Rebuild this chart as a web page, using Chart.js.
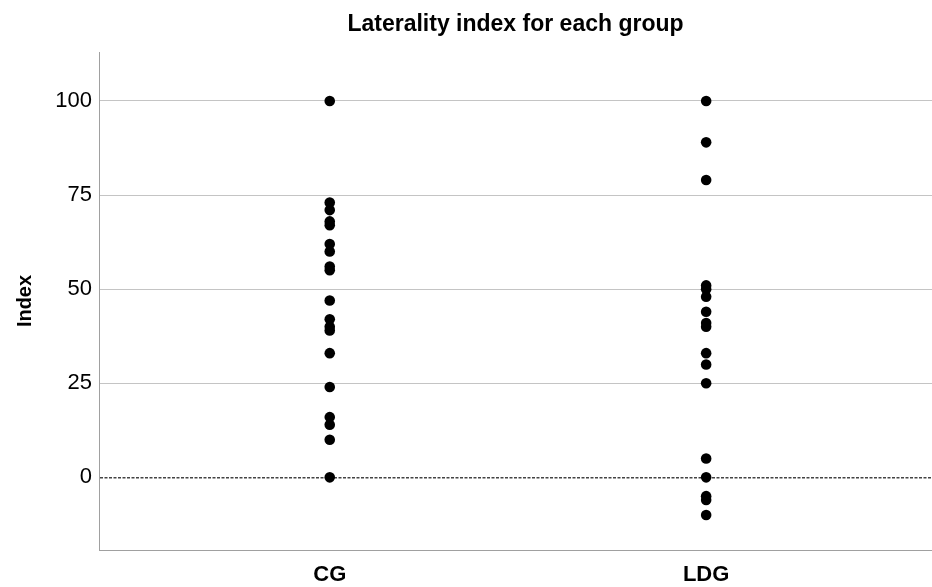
<!DOCTYPE html>
<html>
<head>
<meta charset="utf-8">
<script src="https://cdn.jsdelivr.net/npm/chart.js@4/dist/chart.umd.min.js"></script>
<style>
  html, body { margin: 0; padding: 0; background: #ffffff; }
  #wrap { width: 932px; height: 587px; }
</style>
</head>
<body>
<div id="wrap"><canvas id="c" width="932" height="587"></canvas></div>
<script>
const categories = ['CG', 'LDG'];
const cgValues = [100, 73, 71, 68, 67, 62, 60, 56, 55, 47, 42, 40, 39, 33, 24, 16, 14, 10, 0];
const ldgValues = [100, 89, 79, 51, 50, 48, 44, 41, 40, 33, 30, 25, 5, 0, -5, -6, -10];
const yTickValues = [0, 25, 50, 75, 100];
const chartTitle = 'Laterality index for each group';
const yAxisTitle = 'Index';

const seriesValues = [cgValues, ldgValues];
const FONT = '"Liberation Sans", Arial, sans-serif';

const datasets = seriesValues.map((vals, ci) => ({
  label: categories[ci],
  data: vals.map(v => ({ x: ci, y: v })),
  backgroundColor: '#000000',
  borderColor: '#000000',
  pointRadius: 5.3,
  pointHoverRadius: 5.3,
  pointBorderWidth: 0
}));

new Chart(document.getElementById('c'), {
  type: 'scatter',
  data: { datasets },
  options: {
    responsive: false,
    animation: false,
    events: [],
    layout: { autoPadding: false, padding: { left: 0, right: 0, top: 0, bottom: 0 } },
    plugins: {
      legend: { display: false },
      tooltip: { enabled: false },
      title: {
        display: true,
        text: chartTitle,
        fullSize: false,
        color: '#000000',
        font: { family: FONT, size: 23, weight: 'bold', lineHeight: 1.2 },
        padding: { top: 11, bottom: 13.4 }
      }
    },
    scales: {
      x: {
        type: 'linear',
        min: -0.613,
        max: 1.60,
        afterBuildTicks: (scale) => { scale.ticks = categories.map((c, i) => ({ value: i })); },
        afterFit: (scale) => { scale.height = 37; },
        grid: { display: false, drawTicks: false },
        border: { display: true, color: '#a0a0a0', width: 1 },
        ticks: {
          padding: 12,
          color: '#000000',
          font: { family: FONT, size: 22, weight: 'bold' },
          callback: (v) => categories[v] !== undefined ? categories[v] : ''
        }
      },
      y: {
        type: 'linear',
        min: -19.3,
        max: 113,
        afterBuildTicks: (scale) => { scale.ticks = yTickValues.map(v => ({ value: v })); },
        afterFit: (scale) => { scale.width = 99; },
        grid: {
          drawTicks: false,
          color: (ctx) => (ctx.tick && ctx.tick.value === 0) ? '#444444' : '#c4c4c4',
          lineWidth: (ctx) => (ctx.tick && ctx.tick.value === 0) ? 1.5 : 1
        },
        border: {
          display: true,
          color: '#a0a0a0',
          width: 1,
          dash: (ctx) => (ctx.tick && ctx.tick.value === 0) ? [3, 1.5] : []
        },
        ticks: {
          padding: 7,
          color: '#000000',
          font: { family: FONT, size: 22 }
        },
        title: {
          display: true,
          text: yAxisTitle,
          color: '#000000',
          font: { family: FONT, size: 20, weight: 'bold', lineHeight: 1.2 },
          padding: { top: 13, bottom: 0 }
        }
      }
    }
  }
});
</script>
</body>
</html>
